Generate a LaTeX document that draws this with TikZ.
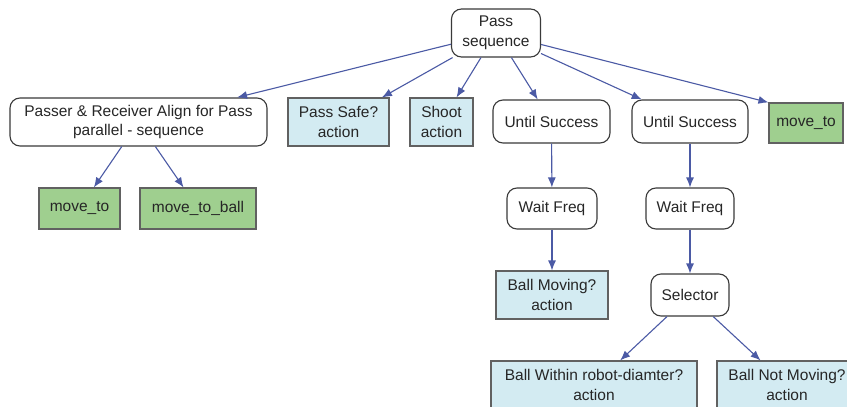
\documentclass[tikz,border=0pt]{standalone}
\usepackage{fontspec}
\setmainfont{Liberation Sans}
\usetikzlibrary{arrows.meta}
\definecolor{edgeblue}{HTML}{4B5AA5}
\definecolor{actblue}{HTML}{D3EBF2}
\definecolor{mvgreen}{HTML}{9FCF8F}
\definecolor{bordergray}{HTML}{3A3A3A}
\begin{document}
\begin{tikzpicture}[x=1pt,y=-1pt,
  every node/.style={font=\fontsize{15.5}{19.5}\selectfont, text=black!85, align=center, inner sep=0pt},
  ctrl/.style={draw=bordergray, line width=1.1pt, rounded corners=10pt, fill=white},
  act/.style={draw=bordergray!80, line width=1.1pt, fill=actblue},
  mv/.style={draw=bordergray!80, line width=1.1pt, fill=mvgreen},
  edge/.style={draw=edgeblue, line width=1.1pt, -{Latex[length=10pt,width=8pt]}}]
\useasboundingbox (0,0) rectangle (847,407);
\clip (0,0) rectangle (847,407);
\fill[white] (0,0) rectangle (847,407);

\node[ctrl, minimum width=89pt, minimum height=48pt] (root) at (496,33) {Pass\\sequence};
\node[ctrl, minimum width=257pt, minimum height=48pt] (passer) at (138.5,122) {Passer \& Receiver Align for Pass\\parallel - sequence};
\node[act, minimum width=101pt, minimum height=48pt] (safe) at (338.5,122) {Pass Safe?\\action};
\node[act, minimum width=63pt, minimum height=48pt] (shoot) at (441.5,122) {Shoot\\action};
\node[ctrl, minimum width=117pt, minimum height=43pt] (us1) at (551.5,121.5) {Until Success};
\node[ctrl, minimum width=116pt, minimum height=43pt] (us2) at (690,121.5) {Until Success};
\node[mv, minimum width=74pt, minimum height=40pt] (mvr) at (806,123) {move\_to};
\node[mv, minimum width=81pt, minimum height=41pt] (mvl) at (79.5,208.5) {move\_to};
\node[mv, minimum width=116pt, minimum height=41pt] (mvb) at (198,208.5) {move\_to\_ball};
\node[ctrl, minimum width=90pt, minimum height=41pt] (wf1) at (552,208.5) {Wait Freq};
\node[ctrl, minimum width=88pt, minimum height=41pt] (wf2) at (690,208.5) {Wait Freq};
\node[act, minimum width=112pt, minimum height=48pt] (bm) at (552,295) {Ball Moving?\\action};
\node[ctrl, minimum width=78pt, minimum height=42pt] (sel) at (690,295) {Selector};
\node[act, minimum width=206pt, minimum height=48pt] (bw) at (594,385) {Ball Within robot-diamter?\\action};
\node[act, minimum width=140pt, minimum height=48pt] (bn) at (787,385) {Ball Not Moving?\\action};

\draw[edge] (root) -- (passer);
\draw[edge] (root) -- (safe);
\draw[edge] (root) -- (shoot);
\draw[edge] (root) -- (us1);
\draw[edge] (root) -- (us2);
\draw[edge] (root) -- (mvr.north west);
\draw[edge] (passer) -- (mvl);
\draw[edge] (passer) -- (mvb);
\draw[edge] (us1) -- (wf1);
\draw[edge] (us2) -- (wf2);
\draw[edge] (wf1) -- (bm);
\draw[edge] (wf2) -- (sel);
\draw[edge] (sel) -- (bw);
\draw[edge] (sel) -- (bn);
\end{tikzpicture}
\end{document}
